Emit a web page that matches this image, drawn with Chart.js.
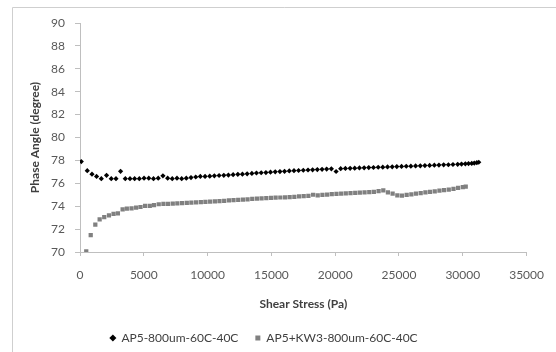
<!DOCTYPE html>
<html>
<head>
<meta charset="utf-8">
<script src="https://cdn.jsdelivr.net/npm/chart.js@4.4.1/dist/chart.umd.min.js"></script>
<style>
  html, body { margin: 0; padding: 0; background: #fff; }
  #phaseCanvas { display: block; }
</style>
</head>
<body>
<canvas id="phaseCanvas" width="556" height="352"></canvas>
<script>
// AP5-800um-60C-40C (black diamonds)
const apStress = [100, 570, 940, 1300, 1670, 2080, 2450, 2820, 3180, 3550, 3920, 4280, 4650, 5020, 5390, 5760, 6130, 6500,
  6870, 7230, 7600, 7970, 8330, 8700, 9070, 9430, 9800, 10170, 10530, 10900, 11270, 11630, 12000, 12370, 12730, 13100,
  13470, 13830, 14200, 14570, 14930, 15300, 15670, 16030, 16400, 16770, 17130, 17500, 17870, 18230, 18600, 18970,
  19330, 19700, 20070, 20430, 20800, 21170, 21530, 21900, 22270, 22630, 23000, 23370, 23730, 24100, 24470, 24830,
  25200, 25570, 25930, 26300, 26670, 27030, 27400, 27770, 28130, 28500, 28870, 29230, 29600, 29900, 30200, 30450,
  30700, 30900, 31100, 31250];
const apAngle = [77.9, 77.1, 76.8, 76.6, 76.4, 76.7, 76.4, 76.4, 77.05, 76.4, 76.4, 76.4, 76.4, 76.45, 76.45, 76.4, 76.45, 76.65,
  76.45, 76.4, 76.45, 76.4, 76.45, 76.5, 76.55, 76.6, 76.6, 76.62, 76.65, 76.68, 76.7, 76.72, 76.75, 76.78, 76.8, 76.83,
  76.86, 76.9, 76.92, 76.94, 76.97, 77.0, 77.02, 77.05, 77.08, 77.1, 77.12, 77.14, 77.16, 77.18, 77.2, 77.22,
  77.24, 77.26, 77.03, 77.28, 77.3, 77.31, 77.32, 77.34, 77.35, 77.37, 77.38, 77.4, 77.41, 77.43, 77.44, 77.46,
  77.47, 77.49, 77.5, 77.52, 77.53, 77.55, 77.56, 77.58, 77.59, 77.61, 77.62, 77.64, 77.66, 77.68, 77.7, 77.72,
  77.74, 77.77, 77.8, 77.84];

// AP5+KW3-800um-60C-40C (grey squares)
const kwStress = [490, 840, 1200, 1540, 1900, 2270, 2630, 2970, 3340, 3670, 4040, 4400, 4740, 5100, 5470, 5800, 6170, 6540,
  6900, 7270, 7630, 8000, 8370, 8730, 9100, 9470, 9830, 10200, 10570, 10930, 11300, 11670, 12030, 12400, 12770, 13130,
  13500, 13870, 14230, 14600, 14970, 15330, 15700, 16070, 16430, 16800, 17170, 17530, 17900, 18270, 18630, 19000,
  19370, 19730, 20100, 20470, 20830, 21200, 21570, 21930, 22300, 22670, 23030, 23400, 23770, 24130, 24500, 24870,
  25230, 25600, 25970, 26330, 26700, 27070, 27430, 27800, 28170, 28530, 28900, 29270, 29630, 30000, 30230];
const kwAngle = [70.05, 71.47, 72.4, 72.85, 73.05, 73.2, 73.32, 73.38, 73.73, 73.78, 73.82, 73.87, 73.93, 74.02, 74.02, 74.1, 74.17, 74.2,
  74.2, 74.22, 74.25, 74.27, 74.3, 74.32, 74.34, 74.36, 74.38, 74.4, 74.43, 74.45, 74.47, 74.5, 74.52, 74.55, 74.57, 74.6,
  74.63, 74.66, 74.68, 74.7, 74.72, 74.74, 74.76, 74.78, 74.8, 74.82, 74.85, 74.87, 74.9, 75.0, 74.95, 74.98,
  75.02, 75.05, 75.07, 75.1, 75.12, 75.14, 75.16, 75.18, 75.2, 75.22, 75.25, 75.32, 75.38, 75.2, 75.1, 74.95,
  74.92, 74.98, 75.04, 75.1, 75.15, 75.2, 75.25, 75.3, 75.35, 75.4, 75.45, 75.52, 75.6, 75.66, 75.72];

const xTicks = [0, 5000, 10000, 15000, 20000, 25000, 30000, 35000];
const yTicks = [70, 72, 74, 76, 78, 80, 82, 84, 86, 88, 90];

const seriesNames = ['AP5-800um-60C-40C', 'AP5+KW3-800um-60C-40C'];

function toPoints(xs, ys) {
  return xs.map((x, i) => ({ x: x, y: ys[i] }));
}

// light frame around the plot like the Excel chart border
const framePlugin = {
  id: 'frame',
  beforeDraw(chart) {
    const ctx = chart.ctx;
    ctx.save();
    ctx.fillStyle = '#fff';
    ctx.fillRect(0, 0, chart.width, chart.height);
    ctx.strokeStyle = '#cfcfcf';
    ctx.lineWidth = 1;
    ctx.beginPath();
    ctx.moveTo(12.5, chart.height);
    ctx.lineTo(12.5, 7.5);
    ctx.lineTo(chart.width, 7.5);
    ctx.stroke();
    ctx.restore();
  }
};

const font = 'Lato, "Open Sans", sans-serif';

const ctx = document.getElementById('phaseCanvas').getContext('2d');
new Chart(ctx, {
  type: 'scatter',
  data: {
    datasets: [
      {
        label: seriesNames[0],
        data: toPoints(apStress, apAngle),
        pointStyle: 'rectRot',
        pointRadius: 2.6,
        backgroundColor: '#000',
        borderColor: '#000',
        borderWidth: 0
      },
      {
        label: seriesNames[1],
        data: toPoints(kwStress, kwAngle),
        pointStyle: 'rect',
        pointRadius: 3,
        backgroundColor: '#808080',
        borderColor: '#808080',
        borderWidth: 0
      }
    ]
  },
  options: {
    responsive: false,
    animation: false,
    layout: { padding: { left: 0, top: 23, right: 28, bottom: -2 } },
    plugins: {
      tooltip: { enabled: false },
      legend: {
        position: 'bottom',
        labels: {
          usePointStyle: true,
          boxWidth: 5,
          boxHeight: 5,
          padding: 17,
          color: '#404040',
          font: { family: font, size: 12 }
        }
      }
    },
    scales: {
      x: {
        type: 'linear',
        min: 0,
        max: 35000,
        afterBuildTicks(scale) { scale.ticks = xTicks.map(v => ({ value: v })); },
        afterFit(scale) { scale.height = 63; },
        grid: { drawOnChartArea: false, drawTicks: true, tickLength: 4, color: '#bfbfbf' },
        border: { color: '#bfbfbf' },
        ticks: {
          padding: 12,
          color: '#595959',
          font: { family: font, size: 12 },
          callback: v => String(v)
        },
        title: {
          display: true,
          text: 'Shear Stress (Pa)',
          color: '#404040',
          padding: { top: 0, bottom: 4 },
          font: { family: font, size: 12, weight: 'bold' }
        }
      },
      y: {
        min: 70,
        max: 90,
        afterBuildTicks(scale) { scale.ticks = yTicks.map(v => ({ value: v })); },
        afterFit(scale) { scale.width = 80; },
        grid: { drawOnChartArea: false, drawTicks: true, tickLength: 5, color: '#bfbfbf' },
        border: { color: '#bfbfbf' },
        ticks: { padding: 10, color: '#595959', font: { family: font, size: 12 } },
        title: {
          display: true,
          text: 'Phase Angle (degree)',
          color: '#404040',
          padding: { top: 28, bottom: 0 },
          font: { family: font, size: 12, weight: 'bold' }
        }
      }
    }
  },
  plugins: [framePlugin]
});
</script>
</body>
</html>
